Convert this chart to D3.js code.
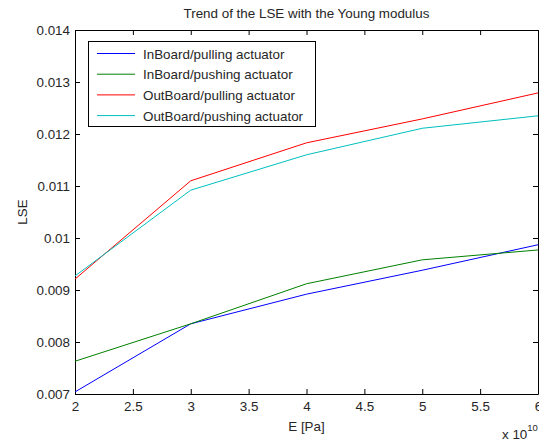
<!DOCTYPE html>
<html><head><meta charset="utf-8">
<script src="https://cdn.jsdelivr.net/npm/d3@7/dist/d3.min.js"></script>
<style>body{margin:0;background:#fff;} text{font-family:"Liberation Sans",Arial,sans-serif;}</style>
</head><body><svg id="c" width="539" height="441"></svg>
<script>
const xValues = [2, 3, 4, 5, 6];
const inboardPulling = [0.00704, 0.00835, 0.00892, 0.00938, 0.00987];
const inboardPushing = [0.00763, 0.00835, 0.00912, 0.00958, 0.00977];
const outboardPulling = [0.00921, 0.01110, 0.01183, 0.01229, 0.01279];
const outboardPushing = [0.00927, 0.01092, 0.01160, 0.01211, 0.01235];
const seriesNames = ["InBoard/pulling actuator", "InBoard/pushing actuator", "OutBoard/pulling actuator", "OutBoard/pushing actuator"];
const seriesColors = ["#0000ff", "#008000", "#ff0000", "#00bfbf"];
const xTicks = [2, 2.5, 3, 3.5, 4, 4.5, 5, 5.5, 6];
const yTicks = [0.007, 0.008, 0.009, 0.010, 0.011, 0.012, 0.013, 0.014];
const yTickLabels = ["0.007", "0.008", "0.009", "0.01", "0.011", "0.012", "0.013", "0.014"];
const titleText = "Trend of the LSE with the Young modulus";

const svg = d3.select("#c");
const L = 75, R = 538, T = 30, B = 394;
const FS = 13.4;
const x = d3.scaleLinear().domain([2, 6]).range([L, R]);
const y = d3.scaleLinear().domain([0.007, 0.014]).range([B, T]);
const series = [inboardPulling, inboardPushing, outboardPulling, outboardPushing];
const tc = "#262626";

// axes
const gx = svg.append("g").attr("transform", `translate(0,${B})`)
  .call(d3.axisBottom(x).tickValues(xTicks).tickFormat(d => d3.format("")(d)).tickSizeInner(-5).tickSizeOuter(0).tickPadding(7));
const gxt = svg.append("g").attr("transform", `translate(0,${T})`)
  .call(d3.axisTop(x).tickValues(xTicks).tickFormat("").tickSizeInner(-5).tickSizeOuter(0));
const gy = svg.append("g").attr("transform", `translate(${L},0)`)
  .call(d3.axisLeft(y).tickValues(yTicks).tickFormat((d, i) => yTickLabels[i]).tickSizeInner(-5).tickSizeOuter(0).tickPadding(5));
const gyr = svg.append("g").attr("transform", `translate(${R},0)`)
  .call(d3.axisRight(y).tickValues(yTicks).tickFormat("").tickSizeInner(-5).tickSizeOuter(0));
[gx, gxt, gy, gyr].forEach(g => {
  g.select(".domain").attr("stroke", "#000");
  g.selectAll(".tick line").attr("stroke", "#000");
  g.selectAll("text").attr("font-size", FS).attr("fill", tc).attr("font-family", "Liberation Sans, Arial, sans-serif");
});

// lines
const line = d3.line().x((d, i) => x(xValues[i])).y(d => y(d));
const plot = svg.append("g");
series.forEach((s, k) => {
  plot.append("path").datum(s).attr("d", line).attr("fill", "none")
    .attr("stroke", seriesColors[k]).attr("stroke-width", 1);
});

// title and labels
svg.append("text").attr("x", (L + R) / 2).attr("y", 18).attr("text-anchor", "middle")
  .attr("font-size", FS).attr("fill", tc).text(titleText);
svg.append("text").attr("x", (L + R) / 2).attr("y", 431).attr("text-anchor", "middle")
  .attr("font-size", FS).attr("fill", tc).text("E [Pa]");
svg.append("text").attr("transform", `translate(27,${(T + B) / 2}) rotate(-90)`).attr("text-anchor", "middle")
  .attr("font-size", FS).attr("fill", tc).text("LSE");
const sci = svg.append("text").attr("x", 502).attr("y", 439).attr("font-size", FS).attr("fill", tc);
sci.append("tspan").text("x 10");
sci.append("tspan").attr("dy", -8).attr("font-size", 9.5).text("10");

// legend
const lg = svg.append("g");
lg.append("rect").attr("x", 88.5).attr("y", 41.5).attr("width", 227).attr("height", 85)
  .attr("fill", "#fff").attr("stroke", "#000").attr("stroke-width", 1);
seriesNames.forEach((n, k) => {
  const yy = 53.5 + k * 20.7;
  lg.append("line").attr("x1", 97).attr("x2", 135).attr("y1", yy).attr("y2", yy)
    .attr("stroke", seriesColors[k]).attr("stroke-width", 1);
  lg.append("text").attr("x", 143).attr("y", yy + 5).attr("font-size", FS).attr("fill", tc).text(n);
});
</script></body></html>
